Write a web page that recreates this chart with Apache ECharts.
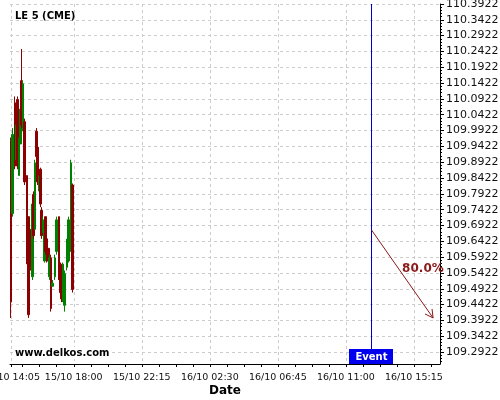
<!DOCTYPE html>
<html>
<head>
<meta charset="utf-8">
<script src="https://cdn.jsdelivr.net/npm/echarts@6/dist/echarts.min.js"></script>
<style>
  html, body { margin: 0; padding: 0; background: #fff; }
  #chart { width: 500px; height: 400px; }
</style>
</head>
<body>
<div id="chart"></div>
<script>
// x is counted in minutes after 15/10 14:05
const startDay = 15
const startMin = 14 * 60 + 5

// 5 minute candles, all on 15/10
const times = ['14:05', '14:10', '14:20', '14:25', '14:30', '14:35', '14:40', '14:45', '14:50', '14:55',
  '15:05', '15:10', '15:20', '15:25', '15:30', '15:35', '15:40', '15:45', '15:50', '15:55',
  '16:00', '16:05', '16:10', '16:15', '16:20', '16:25', '16:30', '16:35', '16:40', '16:50',
  '16:55', '17:05', '17:10', '17:15', '17:20', '17:25', '17:35', '17:40', '17:45', '17:50', '17:55']
const opens = [109.96, 109.73, 110.08, 109.90, 110.09, 109.85, 109.95, 110.15, 110.00, 110.02,
  109.85, 109.72, 109.68, 109.53, 109.79, 109.68, 109.99, 109.94, 109.81, 109.87,
  109.74, 109.67, 109.58, 109.72, 109.65, 109.62, 109.53, 109.59, 109.50, 109.53,
  109.61, 109.72, 109.57, 109.55, 109.46, 109.44, 109.56, 109.58, 109.61, 109.66, 109.82]
const highs = [109.97, 110.00, 110.10, 110.02, 110.10, 109.97, 110.07, 110.25, 110.15, 110.03,
  109.85, 109.72, 109.68, 109.77, 109.80, 109.90, 110.00, 109.95, 109.85, 109.875,
  109.75, 109.72, 109.68, 109.72, 109.65, 109.62, 109.60, 109.60, 109.52, 109.60,
  109.72, 109.72, 109.575, 109.55, 109.575, 109.55, 109.65, 109.72, 109.68, 109.90, 109.825]
const lows = [109.40, 109.72, 109.87, 109.90, 109.87, 109.85, 109.95, 110.00, 109.99, 109.82,
  109.57, 109.40, 109.55, 109.52, 109.65, 109.68, 109.90, 109.82, 109.80, 109.75,
  109.65, 109.67, 109.575, 109.60, 109.575, 109.575, 109.52, 109.42, 109.50, 109.52,
  109.60, 109.52, 109.48, 109.45, 109.45, 109.42, 109.55, 109.575, 109.60, 109.65, 109.48]
const closes = [109.45, 109.98, 109.88, 110.01, 109.88, 109.96, 110.06, 110.01, 110.14, 109.83,
  109.58, 109.41, 109.56, 109.76, 109.66, 109.89, 109.91, 109.83, 109.84, 109.76,
  109.66, 109.71, 109.67, 109.61, 109.58, 109.58, 109.59, 109.43, 109.51, 109.59,
  109.71, 109.53, 109.48, 109.46, 109.57, 109.54, 109.64, 109.71, 109.67, 109.89, 109.49]

const xLabels = ['15/10 14:05', '15/10 18:00', '15/10 22:15', '16/10 02:30', '16/10 06:45', '16/10 11:00', '16/10 15:15']
const yLabels = [109.2922, 109.3422, 109.3922, 109.4422, 109.4922, 109.5422, 109.5922, 109.6422,
  109.6922, 109.7422, 109.7922, 109.8422, 109.8922, 109.9422, 109.9922, 110.0422, 110.0922,
  110.1422, 110.1922, 110.2422, 110.2922, 110.3422, 110.3922]

const eventTime = '16/10 12:35'
const forecastEndTime = '16/10 16:27'
const forecastStart = 109.678
const forecastEnd = 109.40
const forecastText = '80.0%'

function parseStamp (s) {
  const [d, hm] = s.split(' ')
  const day = +d.split('/')[0]
  const [h, m] = hm.split(':').map(Number)
  return (day - startDay) * 1440 + h * 60 + m - startMin
}
function fmtStamp (v) {
  const total = startMin + Math.round(v)
  const day = startDay + Math.floor(total / 1440)
  const rem = total % 1440
  const h = Math.floor(rem / 60)
  const m = rem % 60
  return day + '/10 ' + String(h).padStart(2, '0') + ':' + String(m).padStart(2, '0')
}

const xMin = -4
const xMax = 1608
const yMin = 109.2544
const yMax = 110.3922

const xLabelVals = xLabels.map(parseStamp)
// small ticks, a quarter of a label step apart
const xMinorVals = []
for (let v = xLabelVals[1] - 3 * 63.75; v <= xMax; v += 63.75) xMinorVals.push(v)
const yMinorVals = []
for (let k = -4; k <= 110; k++) yMinorVals.push(+(109.2922 + k * 0.01).toFixed(4))

const candles = times.map((t, i) => [parseStamp('15/10 ' + t), opens[i], closes[i], lows[i], highs[i]])

const chart = echarts.init(document.getElementById('chart'))
chart.setOption({
  animation: false,
  textStyle: { fontFamily: 'DejaVu Sans' },
  title: {
    text: 'LE 5 (CME)',
    left: 10,
    top: 6,
    textStyle: { fontSize: 10, fontWeight: 'bold', color: '#000', fontFamily: 'DejaVu Sans' }
  },
  graphic: [{
    type: 'text',
    left: 13,
    top: 347,
    z: 100,
    style: {
      text: 'www.delkos.com',
      font: 'bold 10px "DejaVu Sans"',
      fill: '#000',
      backgroundColor: '#fff',
      padding: [1, 2]
    }
  }],
  grid: { left: 10, right: 60, top: 4, bottom: 36, outerBoundsMode: 'none', containLabel: false },
  xAxis: [{
    type: 'value',
    min: xMin,
    max: xMax,
    name: 'Date',
    nameLocation: 'middle',
    nameGap: 21,
    nameMoveOverlap: false,
    nameTextStyle: { fontSize: 12, fontWeight: 'bold', color: '#000' },
    axisLine: { onZero: false, lineStyle: { color: '#000', width: 1 } },
    axisTick: { customValues: xLabelVals, length: 3, lineStyle: { color: '#000' } },
    axisLabel: { customValues: xLabelVals, formatter: fmtStamp, fontSize: 9.5, color: '#111', margin: 9 },
    splitLine: { show: true, lineStyle: { color: '#cccccc', type: [3, 3] } }
  }, {
    type: 'value',
    min: xMin,
    max: xMax,
    position: 'bottom',
    axisLine: { show: false, onZero: false },
    axisLabel: { show: false },
    splitLine: { show: false },
    axisTick: { customValues: xMinorVals, length: 3, lineStyle: { color: '#000' } }
  }],
  yAxis: [{
    type: 'value',
    position: 'right',
    min: yMin,
    max: yMax,
    axisLine: { show: true, onZero: false, lineStyle: { color: '#000', width: 1 } },
    axisTick: { show: true, customValues: yLabels, length: 4, lineStyle: { color: '#000' } },
    axisLabel: { customValues: yLabels, formatter: v => v.toFixed(4), fontSize: 11, color: '#111', margin: 6 },
    splitLine: { show: true, lineStyle: { color: '#cccccc', type: [3, 3] } }
  }, {
    type: 'value',
    position: 'right',
    min: yMin,
    max: yMax,
    axisLine: { show: false, onZero: false },
    axisLabel: { show: false },
    splitLine: { show: false },
    axisTick: { show: true, customValues: yMinorVals, length: 2, lineStyle: { color: '#000' } }
  }],
  series: [{
    type: 'candlestick',
    xAxisIndex: 0,
    yAxisIndex: 0,
    barWidth: 2,
    encode: { x: 0, y: [1, 2, 3, 4] },
    data: candles,
    itemStyle: {
      color: '#008000',
      color0: '#8b0000',
      borderColor: '#008000',
      borderColor0: '#8b0000',
      borderWidth: 1
    }
  }, {
    type: 'custom',
    xAxisIndex: 0,
    yAxisIndex: 0,
    data: [[parseStamp(eventTime), forecastStart, parseStamp(forecastEndTime), forecastEnd]],
    renderItem (params, api) {
      const cs = params.coordSys
      const s = api.coord([api.value(0), api.value(1)])
      const e = api.coord([api.value(2), api.value(3)])
      const lx = Math.round(s[0]) + 0.5
      const ang = Math.atan2(s[1] - e[1], s[0] - e[0])
      const head = 9
      const spread = 0.5
      const p1 = [e[0] + head * Math.cos(ang + spread), e[1] + head * Math.sin(ang + spread)]
      const p2 = [e[0] + head * Math.cos(ang - spread), e[1] + head * Math.sin(ang - spread)]
      const bottom = cs.y + cs.height
      return {
        type: 'group',
        children: [
          { type: 'line', shape: { x1: lx, y1: cs.y, x2: lx, y2: bottom }, style: { stroke: '#0000cc', lineWidth: 1 } },
          { type: 'rect', shape: { x: lx - 22.5, y: bottom - 15, width: 44, height: 15 }, style: { fill: '#0000ee' } },
          { type: 'text', x: lx, y: bottom - 7, style: { text: 'Event', fill: '#fff', font: 'bold 10px "DejaVu Sans"', textAlign: 'center', textVerticalAlign: 'middle' } },
          { type: 'line', shape: { x1: lx, y1: s[1], x2: e[0], y2: e[1] }, style: { stroke: '#8b1a1a', lineWidth: 1 } },
          { type: 'polyline', shape: { points: [p1, e, p2] }, style: { stroke: '#8b1a1a', fill: null, lineWidth: 1 } },
          { type: 'text', x: (s[0] + e[0]) / 2, y: (s[1] + e[1]) / 2 + 1, style: { text: forecastText, fill: '#8b1a1a', font: 'bold 12px "DejaVu Sans"', textAlign: 'left', textVerticalAlign: 'bottom' } }
        ]
      }
    }
  }]
})
</script>
</body>
</html>
